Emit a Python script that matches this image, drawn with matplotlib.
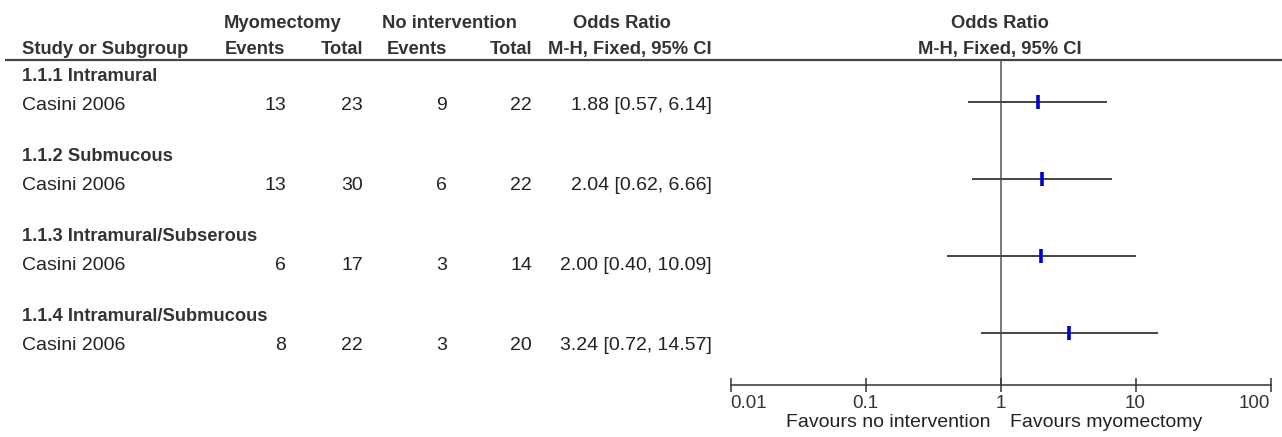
import matplotlib
matplotlib.use("Agg")
import matplotlib.pyplot as plt
import numpy as np

# ---- data ----
subgroups = ["1.1.1 Intramural", "1.1.2 Submucous",
             "1.1.3 Intramural/Subserous", "1.1.4 Intramural/Submucous"]
studies = ["Casini 2006", "Casini 2006", "Casini 2006", "Casini 2006"]
myo_events = [13, 13, 6, 8]
myo_total = [23, 30, 17, 22]
noint_events = [9, 6, 3, 3]
noint_total = [22, 22, 14, 20]
odds_ratio = [1.88, 2.04, 2.00, 3.24]
ci_low = [0.57, 0.62, 0.40, 0.72]
ci_high = [6.14, 6.66, 10.09, 14.57]
tick_values = [0.01, 0.1, 1, 10, 100]
tick_labels = ["0.01", "0.1", "1", "10", "100"]
favours_left = "Favours no intervention"
favours_right = "Favours myomectomy"

W, H = 1282, 437
DPI = 100
fig = plt.figure(figsize=(W / DPI, H / DPI), dpi=DPI)
fig.patch.set_facecolor("white")

FONT = "Liberation Sans"
TXT = "#222222"
HDR = "#333333"
REG = 14
BOLD = 13.2

# background axes in pixel coordinates for the table text
bg = fig.add_axes([0, 0, 1, 1])
bg.set_xlim(0, W)
bg.set_ylim(H, 0)
bg.axis("off")

def t(x, y, s, ha="left", bold=False, size=None):
    bg.text(x, y, s, ha=ha, va="baseline", fontfamily=FONT,
            fontweight="bold" if bold else "normal",
            fontsize=size if size else (BOLD if bold else REG),
            color=HDR if bold else TXT)

# headers
t(224, 28, "Myomectomy", bold=True)
t(382, 28, "No intervention", bold=True)
t(622, 28, "Odds Ratio", ha="center", bold=True)
t(1000, 28, "Odds Ratio", ha="center", bold=True)
t(22, 54, "Study or Subgroup", bold=True)
t(285, 54, "Events", ha="right", bold=True)
t(363, 54, "Total", ha="right", bold=True)
t(447, 54, "Events", ha="right", bold=True)
t(532, 54, "Total", ha="right", bold=True)
t(712, 54, "M-H, Fixed, 95% CI", ha="right", bold=True)
t(1000, 54, "M-H, Fixed, 95% CI", ha="center", bold=True)

bg.plot([5, W], [60, 60], color="#444444", lw=1.6, solid_capstyle="butt")

for i in range(len(subgroups)):
    ys = 81 + 80 * i
    yr = 110 + 80 * i
    t(22, ys, subgroups[i], bold=True)
    t(22, yr, studies[i])
    t(286, yr, str(myo_events[i]), ha="right")
    t(363, yr, str(myo_total[i]), ha="right")
    t(447, yr, str(noint_events[i]), ha="right")
    t(532, yr, str(noint_total[i]), ha="right")
    t(712, yr, f"{odds_ratio[i]:.2f} [{ci_low[i]:.2f}, {ci_high[i]:.2f}]", ha="right")

# forest axes
x0, x1 = 730.5, 1270.5
ytop, ybot = 60, 385
ax = fig.add_axes([x0 / W, (H - ybot) / H, (x1 - x0) / W, (ybot - ytop) / H])
ax.set_facecolor("none")
ax.set_xscale("log")
ax.set_xlim(tick_values[0], tick_values[-1])
ax.set_ylim(ybot, ytop)
for s in ["top", "left", "right"]:
    ax.spines[s].set_visible(False)
ax.spines["bottom"].set_color("#333333")
ax.spines["bottom"].set_linewidth(1.1)
ax.set_yticks([])
ax.set_xticks(tick_values)
ax.set_xticklabels(tick_labels)
ax.xaxis.set_minor_locator(matplotlib.ticker.NullLocator())
ax.tick_params(axis="x", direction="inout", length=10, width=1.1,
               color="#333333", pad=2.2, labelsize=13.5, labelcolor="#333333")
labels = ax.get_xticklabels()
for lab in labels:
    lab.set_fontfamily(FONT)
labels[0].set_ha("left")
labels[-1].set_ha("right")

ax.axvline(1, color="#555555", lw=1.1, zorder=1)

ci_y = [102 + 77 * i for i in range(len(odds_ratio))]
ax.hlines(ci_y, ci_low, ci_high, color="#444444", lw=1.4, zorder=2)
ax.plot(odds_ratio, ci_y, ls="none", marker="|", ms=10, mew=2.6,
        color="#0000cc", zorder=3)

t(990, 427, favours_left, ha="right")
t(1010, 427, favours_right, ha="left")

fig.savefig("out.png", dpi=DPI, facecolor="white")
